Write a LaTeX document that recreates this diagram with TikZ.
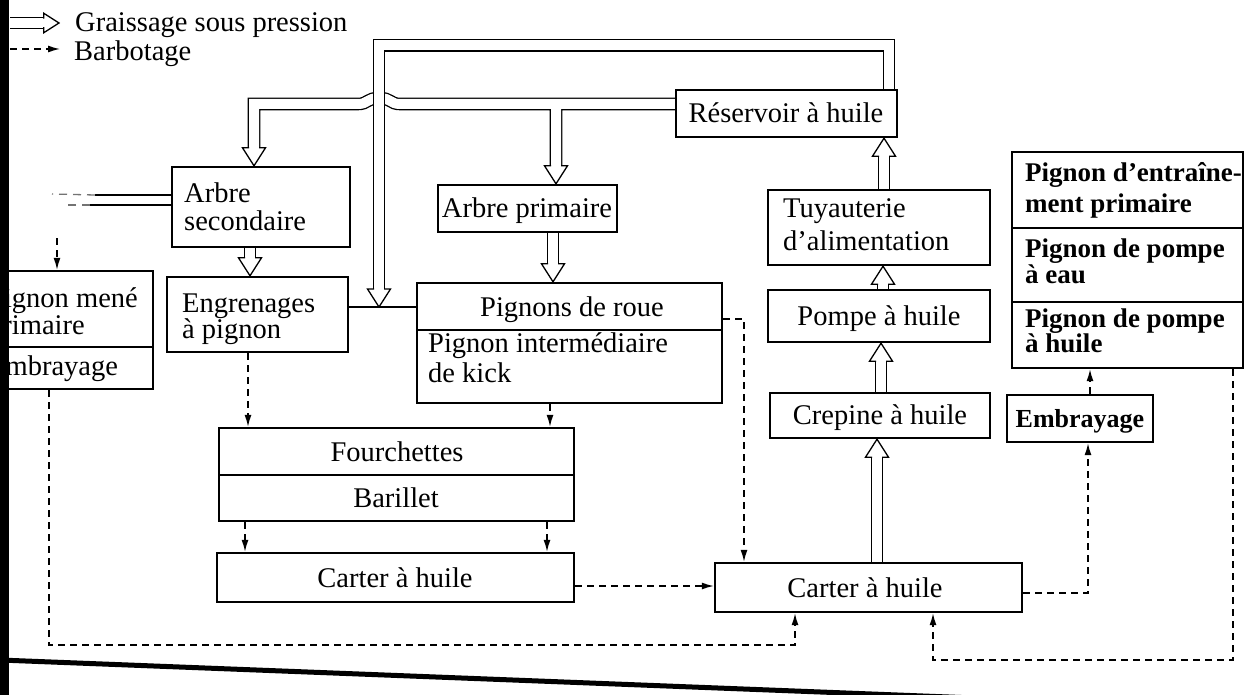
\documentclass[tikz,border=0pt]{standalone}
\usepackage{fontspec}
\setmainfont{Liberation Serif}
\usetikzlibrary{arrows.meta,calc}
\tikzset{
  txt/.style={inner sep=0pt, font=\fontsize{28.5}{29}\selectfont},
  btxt/.style={inner sep=0pt, font=\fontsize{27}{28}\bfseries\selectfont},
  box/.style={draw, line width=2.4pt, inner sep=0pt, line join=miter},
  pipeO/.style={draw=black, line width=12.6pt, line cap=butt, line join=miter},
  pipeI/.style={draw=white, line width=10pt, line cap=butt, line join=miter},
  thin/.style={draw, line width=1.3pt},
  barb/.style={draw, line width=1.4pt, dash pattern=on 7pt off 5pt, -{Latex[length=12pt,width=7pt]}},
  hhead/.pic={\filldraw[fill=white, line width=1.3pt, line join=miter] (-5.0,-18) -- (-11.5,-18) -- (0,0) -- (11.5,-18) -- (5.0,-18);},
}
\newcommand\bx[5]{% name x1 y1 x2 y2
  \pgfmathsetmacro\bw{#4-#2}\pgfmathsetmacro\bh{#5-#3}%
  \node[box,minimum width=\bw pt,minimum height=\bh pt] (#1) at ({(#2+#4)/2},{(#3+#5)/2}) {};}
\begin{document}
\begin{tikzpicture}[x=1pt,y=-1pt]
\useasboundingbox (0,0) rectangle (1246,695);
\fill[white] (0,0) rectangle (1246,695);

% boxes
\bx{res}{676}{90}{897}{137}
\bx{sec}{172}{167}{350}{247}
\bx{eng}{167}{277}{348}{352}
\bx{pm}{-30}{271}{153}{347}
\bx{pmE}{-30}{347}{153}{389}
\bx{apri}{438}{185}{617}{232}
\bx{pigA}{417}{283}{722}{330}
\bx{pigB}{417}{330}{722}{403}
\bx{fouA}{219}{428}{574}{475}
\bx{fouB}{219}{475}{574}{521}
\bx{carL}{217}{553}{574}{602}
\bx{tuy}{768}{190}{990}{265}
\bx{pom}{768}{290}{990}{342}
\bx{cre}{770}{393}{990}{438}
\bx{emb}{1007}{395}{1153}{442}
\bx{rA}{1012}{152}{1243}{228}
\bx{rB}{1012}{228}{1243}{302}
\bx{rC}{1012}{302}{1243}{368}
\bx{carR}{715}{563}{1022}{612}

% texts
\node[txt,anchor=base west] (lg1) at (75,32) {Graissage sous pression};
\node[txt,anchor=base west] (lg2) at (74,61) {Barbotage};
\node[txt,anchor=base] (resT) at (786,123) {Réservoir à huile};
\node[txt,anchor=base west] (secT1) at (184,202) {Arbre};
\node[txt,anchor=base west] (secT2) at (184,230) {secondaire};
\node[txt,anchor=base west] (engT1) at (182,312) {Engrenages};
\node[txt,anchor=base west] (engT2) at (182,338) {à pignon};
\node[txt,anchor=base west] (pmT1) at (-12,307) {Pignon mené};
\node[txt,anchor=base west] (pmT2) at (-12,334) {primaire};
\node[txt,anchor=base west] (pmT3) at (-12,375) {Embrayage};
\node[txt,anchor=base] (apriT) at (527,217) {Arbre primaire};
\node[txt,anchor=base] (pigAT) at (572,316) {Pignons de roue};
\node[txt,anchor=base west] (pigBT1) at (428,352) {Pignon intermédiaire};
\node[txt,anchor=base west] (pigBT2) at (428,382) {de kick};
\node[txt,anchor=base] (fouAT) at (397,461) {Fourchettes};
\node[txt,anchor=base] (fouBT) at (396,507) {Barillet};
\node[txt,anchor=base] (carLT) at (395,587) {Carter à huile};
\node[txt,anchor=base west] (tuyT1) at (783,217) {Tuyauterie};
\node[txt,anchor=base west] (tuyT2) at (783,250) {d’alimentation};
\node[txt,anchor=base] (pomT) at (879,325) {Pompe à huile};
\node[txt,anchor=base] (creT) at (880,424) {Crepine à huile};
\node[btxt,anchor=base,font=\fontsize{26}{28}\bfseries\selectfont] (embT) at (1080,427) {Embrayage};
\node[btxt,anchor=base west] (rAT1) at (1025,182) {Pignon d’entraîne-};
\node[btxt,anchor=base west] (rAT2) at (1025,212) {ment primaire};
\node[btxt,anchor=base west] (rBT1) at (1025,257) {Pignon de pompe};
\node[btxt,anchor=base west] (rBT2) at (1025,283) {à eau};
\node[btxt,anchor=base west] (rCT1) at (1025,327) {Pignon de pompe};
\node[btxt,anchor=base west] (rCT2) at (1025,352) {à huile};
\node[txt,anchor=base] (carRT) at (865,597) {Carter à huile};

% thin connector
\draw[thin] (eng.east |- 0,307) -- (pigA.west |- 0,307);

% pressure pipes: horizontal distribution
\def\pipeH{(res.west |- 0,104) -- (400,104) .. controls (390,104) and (391,98) .. (379,98) .. controls (367,98) and (368,104) .. (358,104) -- (254,104) -- ($(sec.north -| 254,0)+(0,-18)$) (556,104) -- ($(apri.north -| 556,0)+(0,-18)$)}
\draw[pipeO] \pipeH; \draw[pipeI] \pipeH;
% top loop
\def\pipeT{(res.north -| 889,0) -- (889,45.5) -- (379,45.5) -- (379,289)}
\draw[pipeO] \pipeT; \draw[pipeI] \pipeT;
% short pipes
\def\pipeS{(sec.south -| 250,0) -- ($(eng.north -| 250,0)+(0,-18)$)
  (apri.south -| 553,0) -- ($(pigA.north -| 553,0)+(0,-18)$)
  (tuy.north -| 884,0) -- ($(res.south -| 884,0)+(0,18)$)
  (pom.north -| 883,0) -- ($(tuy.south -| 883,0)+(0,18)$)
  (cre.north -| 881,0) -- ($(pom.south -| 881,0)+(0,18)$)
  (carR.north -| 877,0) -- ($(cre.south -| 877,0)+(0,18)$)
  (10,23) -- (44,23)}
\draw[pipeO] \pipeS; \draw[pipeI] \pipeS;
% heads
\pic at (sec.north -| 254,0) {hhead};
\pic at (apri.north -| 556,0) {hhead};
\pic at (379,307) {hhead};
\pic at (eng.north -| 250,0) {hhead};
\pic at (pigA.north -| 553,0) {hhead};
\pic[rotate=180] at (res.south -| 884,0) {hhead};
\pic[rotate=180] at (tuy.south -| 883,0) {hhead};
\pic[rotate=180] at (pom.south -| 881,0) {hhead};
\pic[rotate=180] at (cre.south -| 877,0) {hhead};
\pic[rotate=90,scale=0.85] at (59,23) {hhead};

% faded pipe to the left of Arbre secondaire
\draw[thin] (sec.west |- 0,195) -- (95,195);
\draw[thin] (sec.west |- 0,205) -- (90,205);
\draw[thin, black!55, dash pattern=on 8pt off 6pt] (95,195) -- (52,194);
\draw[thin, black!55, dash pattern=on 8pt off 6pt] (90,205) -- (64,205);

% barbotage
\draw[barb] (10,49) -- (60,49);
\draw[barb] (eng.south -| 248,0) -- (fouA.north -| 248,0);
\draw[barb] (pigB.south -| 550,0) -- (fouA.north -| 550,0);
\draw[barb] (fouB.south -| 245,0) -- (carL.north -| 245,0);
\draw[barb] (fouB.south -| 547,0) -- (carL.north -| 547,0);
\draw[barb] (carL.east |- 0,586) -- (carR.west |- 0,586);
\draw[barb] (pigA.east |- 0,319) -| (carR.north -| 744,0);
\draw[barb] (carR.east |- 0,593) -| (emb.south -| 1088,0);
\draw[barb] (emb.north -| 1090,0) -- (rC.south -| 1090,0);
\draw[barb] (rC.south -| 1233,0) -- (1233,660) -| (carR.south -| 933,0);
\draw[barb] (pmE.south -| 49,0) -- (49,645) -| (carR.south -| 795,0);
\draw[barb] (57,238) -- (pm.north -| 57,0);

% scan edges
\fill[black] (0,0) rectangle (9,695);
\draw[line width=5pt] (0,660) -- (1000,699);
\end{tikzpicture}
\end{document}
